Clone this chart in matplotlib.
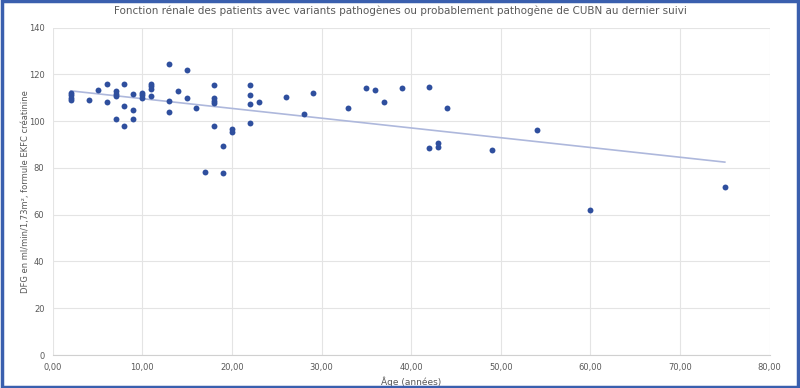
import numpy as np
import matplotlib.pyplot as plt
from matplotlib.patches import Rectangle

# ===== données =====
age = [2, 2, 2, 2, 4, 5, 6, 6, 7, 7, 7, 7, 8, 8, 8, 9, 9, 9,
       10, 10, 10, 11, 11, 11, 11, 13, 13, 13, 14, 15, 15, 16, 17,
       18, 18, 18, 18, 18, 19, 19, 20, 20, 22, 22, 22, 22, 23,
       26, 28, 29, 33, 35, 36, 37, 39, 42, 42, 43, 43, 44, 49, 54, 60, 75]
dfg = [112, 111, 110, 109, 109, 113.5, 116, 108, 112.7, 111.7, 110.7, 101, 116, 106.5, 98, 111.7, 104.7, 101,
       112, 111, 110, 116, 114.8, 113.6, 110.6, 124.4, 108.7, 103.7, 112.8, 121.8, 110, 105.6, 78.3,
       115.4, 109.8, 108.8, 107.8, 98, 89.5, 78, 96.6, 95.2, 115.4, 111.1, 107.3, 99.4, 108,
       110.2, 103, 112.1, 105.4, 114, 113.2, 108, 114, 114.7, 88.3, 90.5, 89, 105.4, 87.6, 96.4, 62, 72]

xticks = [0, 10, 20, 30, 40, 50, 60, 70, 80]
yticks = [0, 20, 40, 60, 80, 100, 120, 140]

gray = "#595959"

fig = plt.figure(figsize=(8, 3.88), dpi=100)
ax = fig.add_axes([0.066, 0.085, 0.896, 0.844])

# droite de tendance linéaire (comme dans Excel)
a, b = np.polyfit(age, dfg, 1)
xt = np.array([min(age), max(age)])
ax.plot(xt, a * xt + b, color="#aeb8dc", linewidth=1.2, zorder=2)

ax.scatter(age, dfg, s=18, color="#2f4f9e", zorder=3, linewidths=0)

ax.set_xlim(0, 80)
ax.set_ylim(0, 140)
ax.set_xticks(xticks)
ax.set_xticklabels([f"{v:.2f}".replace(".", ",") for v in xticks])
ax.set_yticks(yticks)
ax.tick_params(length=0, labelsize=6, labelcolor=gray, pad=6)
ax.grid(True, color="#e4e4e4", linewidth=0.8)
ax.set_axisbelow(True)
for s in ["top", "right", "left"]:
    ax.spines[s].set_visible(False)
ax.spines["bottom"].set_color("#d0d0d0")

ax.set_xlabel("Âge (années)", fontsize=6.5, color=gray, labelpad=3)
ax.set_ylabel("DFG en ml/min/1,73m², formule EKFC créatinine", fontsize=6, color=gray, labelpad=-1)
fig.suptitle("Fonction rénale des patients avec variants pathogènes ou probablement pathogène de CUBN au dernier suivi",
             fontsize=7.5, color=gray, y=0.985)

# cadre bleu autour de l'image
fig.patches.append(Rectangle((0.002, 0.003), 0.996, 0.994, transform=fig.transFigure,
                             fill=False, edgecolor="#3a5fae", linewidth=2.5))

plt.savefig("out.png", dpi=100)
